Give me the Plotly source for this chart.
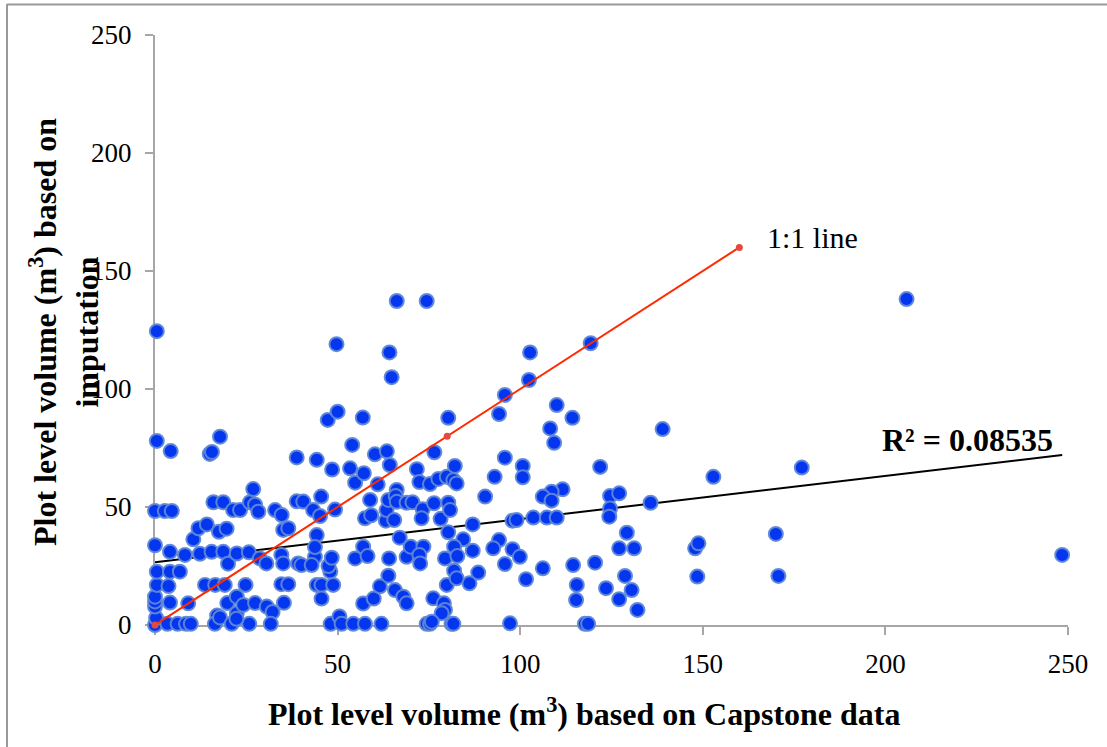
import plotly.graph_objects as go

# Plot level volume (m3) based on Capstone data (x) and on imputation (y)
vol_capstone = [
    0, 0.3, 0, 0, 0, 0.5, 0.5, 0, 0, 0.5, 0.5,
    2.7, 4.6, 4.3, 4.1, 4.1, 6.8, 3.7, 4.1, 9.1, 3.4, 6.2, 8.5, 9.8, 8.2, 10.5,
    11.9, 14.2, 12.3, 15.5, 18.7, 13.7, 16.5, 19.1, 17, 16.4, 15, 15.6, 17.8, 16, 18.7, 17.5, 19.6, 20, 19.8, 17.8,
    21, 21.4, 23.3, 26, 27.4, 28.3, 26.9, 22.4, 25.7, 22.4, 22.4, 24.2, 27.4, 24.8, 28.7, 25.8, 22.3,
    30.5, 30.6, 32.2, 31.7, 32.9, 34.7, 35.1, 36.5, 34.6, 35.1, 35.3, 34.6, 36.5, 38.8, 38.8, 39.2, 40.1,
    40.6, 43.3, 45.2, 44.3, 45.5, 44.3, 43.8, 43.8, 42.9, 44.3, 45.6, 45.6, 48, 47.5, 48.4, 48.8, 48.5, 47.3, 49.7, 50, 49.3, 48.1,
    50.5, 51.1, 53.4, 54, 54.8, 57.2, 56.9, 54.3, 57.5, 54.8, 57, 58.2, 58.9, 57.5, 59.2, 57, 59.9, 60.2, 61,
    61.6, 63.9, 62, 64.1, 63.2, 63.4, 63.9, 64.2, 64.8, 66.2, 63.5, 64.3, 66.2, 65.9, 66.2, 65.5, 67, 65.7, 68, 68.9, 68.9, 68.9, 70,
    70.5, 71.7, 72.4, 75.3, 77.6, 73.3, 73, 73.5, 72.4, 72.6, 74.4, 76.5, 76.4, 78.2, 76.2, 79.1, 79.4, 78.5, 74.4, 75.3, 75.8, 79.9, 79.4, 79.9,
    80.3, 82.1, 81.7, 82.6, 80.3, 80.8, 80.3, 81.2, 81.7, 84.4, 81.9, 82.8, 87, 88.5, 86.1, 81.9, 82.6, 87,
    90.4, 93, 95.8, 94.2, 95.8, 94.2, 92.6, 97.9, 99.9, 95.8, 97.2, 97.9, 99,
    100.7, 100.7, 102.7, 102.4, 103.6, 101.6, 106.2, 107.3, 110, 108.2, 109.3, 110, 111.6, 108.6, 106.2, 108.6,
    114.3, 114.5, 115.5, 115.3, 117.7, 118.6, 119.3, 120.5, 121.9, 123.5, 124.6, 127.1, 124.6, 124.4,
    127.1, 127.1, 128.7, 129.2, 130.5, 131.2, 132.1, 135.7, 139, 147.9, 148.8, 148.5, 152.9,
    170, 170.7, 177.1, 205.8, 248.4,
]
vol_imputation = [
    0, 3, 7.8, 10, 12, 17, 22.6, 33.8, 48.3, 78, 124.5,
    48.3, 48.3, 73.7, 31, 22.6, 22.6, 16.5, 9.5, 9.2, 0.5, 0.5, 0.5, 0.5, 29.7, 36.3,
    41, 42.6, 30.2, 31, 31, 17, 17, 17, 4, 0.5, 72.5, 73.3, 79.8, 52, 52, 39.5, 40.8, 26, 9.3, 3.2,
    0.5, 48.7, 48.7, 52, 51, 48, 57.6, 30.3, 30.8, 12, 5, 8.5, 9.3, 17, 28.2, 0.5, 2.6,
    26.1, 7.8, 5.5, 0.5, 48.7, 46.6, 40.3, 41, 29.7, 26.1, 9.4, 17.3, 17.3, 71, 52.4, 26.1, 25.4,
    52.3, 48.7, 46.2, 70, 54.4, 38.1, 28.9, 33, 25.4, 17, 17, 11.2, 22.7, 25, 28.5, 17, 65.9, 86.9, 119, 90.4, 48.9, 0.5,
    3.6, 0.5, 66.4, 76.3, 60.3, 64.3, 87.9, 0.5, 0.5, 28.2, 33.2, 29.2, 53, 45.2, 46.5, 9.1, 11.2, 72.3, 59.6,
    16.4, 20.9, 0.5, 28.2, 44.2, 48.7, 53, 115.5, 105, 137.3, 73.6, 67.8, 57.2, 54.7, 52.2, 44.5, 37, 14.8, 12, 9.2, 51.8, 28.9, 33.2,
    52, 66, 60.6, 59.7, 61.9, 49, 45.2, 33.2, 29.7, 26.1, 137.3, 73.2, 51.6, 45, 11.3, 9.2, 6.4, 5, 0.5, 0.5, 1.4, 17, 28.2, 62.8,
    87.8, 67.4, 61.4, 60, 51.8, 48.7, 39.3, 0.5, 0.5, 36.3, 33.2, 29.2, 31.5, 22.2, 17.7, 23, 19.8, 42.6,
    54.4, 62.8, 97.5, 89.4, 70.9, 36, 32.5, 32.1, 28.9, 25.8, 0.7, 44.2, 44.5,
    67.4, 62.6, 115.5, 103.8, 45.5, 19.4, 24, 45.5, 45.5, 83.3, 77.2, 93.2, 57.5, 56.5, 54.4, 52.7,
    87.8, 25.4, 17, 10.6, 0.5, 0.5, 119.4, 26.4, 67, 15.6, 54.7, 55.8, 49.4, 45.9,
    32.5, 10.9, 20.8, 39.1, 14.8, 32.5, 6.4, 51.8, 83, 32.5, 34.6, 20.5, 62.8,
    38.6, 20.8, 66.7, 138.1, 29.7,
]

# 1:1 reference line and linear trendline
one_to_one_x = [0, 80, 160]
one_to_one_y = [0, 80, 160]
trend_x = [0, 248.4]
trend_y = [26.6, 72.0]

axis_ticks = [0, 50, 100, 150, 200, 250]
r2_label = "R² = 0.08535"
line_label = "1:1 line"
x_title = "Plot level volume (m<sup>3</sup>) based on Capstone data"
y_title = "Plot level volume (m<sup>3</sup>) based on<br>imputation"

SERIF = "Liberation Serif, Times New Roman, serif"
W, H = 1107, 747
L, R, T, B = 155, 39, 35, 122
PW, PH = W - L - R, H - T - B


def px(xp):
    return (xp - L) / PW


def py(yp):
    return (H - B - yp) / PH


fig = go.Figure()

fig.add_trace(go.Scatter(
    x=trend_x, y=trend_y, mode="lines",
    line=dict(color="black", width=2), hoverinfo="skip", showlegend=False,
))
fig.add_trace(go.Scatter(
    x=vol_capstone, y=vol_imputation, mode="markers",
    marker=dict(size=14, color="#0536ef", line=dict(color="rgba(95,135,215,0.95)", width=2)),
    cliponaxis=False, showlegend=False,
))
fig.add_trace(go.Scatter(
    x=one_to_one_x, y=one_to_one_y, mode="lines+markers",
    line=dict(color="#ff2a00", width=2),
    marker=dict(size=7, color="#e4483e"),
    cliponaxis=False, showlegend=False,
))

axis_common = dict(
    range=[0, 250], tickvals=axis_ticks, showgrid=False, zeroline=False,
    showline=True, linecolor="#a6a6a6", linewidth=2,
    ticks="outside", ticklen=8, tickwidth=2, tickcolor="#a6a6a6",
    tickfont=dict(family=SERIF, size=27, color="black"),
    layer="below traces",
)

fig.update_layout(
    width=W, height=H,
    margin=dict(l=L, r=R, t=T, b=B, autoexpand=False),
    paper_bgcolor="white", plot_bgcolor="white",
    xaxis=dict(**axis_common, ticklabelstandoff=6),
    yaxis=dict(**axis_common, ticklabelstandoff=8),
    showlegend=False,
    shapes=[
        dict(type="line", xref="paper", yref="paper", x0=px(7), x1=px(7), y0=py(4), y1=py(747),
             line=dict(color="#9a9a9a", width=2)),
        dict(type="line", xref="paper", yref="paper", x0=px(7), x1=px(1107), y0=py(4.5), y1=py(4.5),
             line=dict(color="#9a9a9a", width=2)),
    ],
    annotations=[
        dict(text=r2_label, x=246.5, y=78.4, xref="x", yref="y", xanchor="right", yanchor="middle",
             showarrow=False, font=dict(family=SERIF, size=32, color="black", weight="bold")),
        dict(text=line_label, x=167, y=164.4, xref="x", yref="y", xanchor="left", yanchor="middle",
             showarrow=False, font=dict(family=SERIF, size=30, color="black")),
        dict(text="<b>" + x_title + "</b>", x=px(584), y=py(712), xref="paper", yref="paper",
             xanchor="center", yanchor="middle", showarrow=False,
             font=dict(family=SERIF, size=32, color="black")),
        dict(text="<b>" + y_title + "</b>", x=px(64), y=py(332), xref="paper", yref="paper",
             xanchor="center", yanchor="middle", textangle=-90, showarrow=False,
             font=dict(family=SERIF, size=32, color="black")),
    ],
)

fig.write_html("out.html")
